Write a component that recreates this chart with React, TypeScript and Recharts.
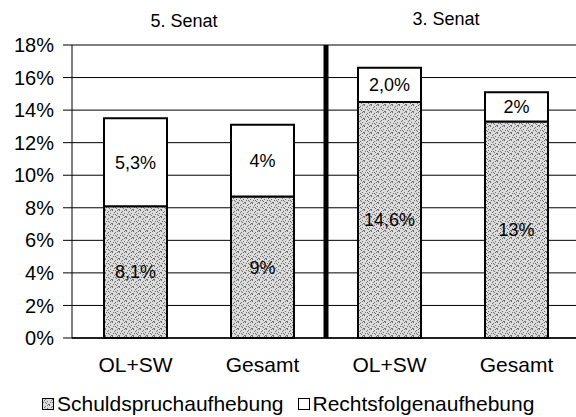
import React from 'react';
import {
  BarChart,
  Bar,
  XAxis,
  YAxis,
  CartesianGrid,
  ReferenceLine,
  LabelList,
} from 'recharts';

const categories = ['OL+SW', 'Gesamt', 'OL+SW', 'Gesamt'];
const positions = [0.5, 1.5, 2.5, 3.5];
const schuldspruch = [8.1, 8.7, 14.5, 13.3];
const rechtsfolgen = [5.4, 4.4, 2.1, 1.8];
const schuldLabels = ['8,1%', '9%', '14,6%', '13%'];
const rechtsLabels = ['5,3%', '4%', '2,0%', '2%'];
const yTicks = [0, 2, 4, 6, 8, 10, 12, 14, 16, 18];
const senate = ['5. Senat', '3. Senat'];

const data = categories.map((name, i) => ({
  name,
  x: positions[i],
  schuld: schuldspruch[i],
  rechts: rechtsfolgen[i],
  schuldLabel: schuldLabels[i],
  rechtsLabel: rechtsLabels[i],
}));

const FONT = '"Liberation Sans", Arial, sans-serif';

// speckled grey like the scanned original
const dots = [
  [0, 0], [3, 1], [5, 3], [1, 4], [4, 5], [2, 2], [6, 6], [0, 6], [5, 0], [3, 4],
];

const Pattern = () => (
  <svg width={0} height={0} style={{ position: 'absolute' }}>
    <defs>
      <pattern id="speckle" width={7} height={7} patternUnits="userSpaceOnUse">
        <rect width={7} height={7} fill="#dcdcdc" />
        {dots.map(([x, y], i) => (
          <rect key={i} x={x} y={y} width={1} height={1} fill="#6e6e6e" />
        ))}
      </pattern>
    </defs>
  </svg>
);

const LegendBox = ({ fill, label, gap }: { fill: string; label: string; gap: number }) => (
  <span style={{ display: 'inline-flex', alignItems: 'center', marginRight: gap }}>
    <svg width={12} height={12} style={{ marginRight: 3 }}>
      <rect x={0.5} y={0.5} width={11} height={11} fill={fill} stroke="#000" strokeWidth={1} />
    </svg>
    {label}
  </span>
);

export default function App() {
  return (
    <div
      style={{
        position: 'fixed',
        left: 0,
        top: 0,
        width: 576,
        height: 417,
        overflow: 'hidden',
        background: '#fff',
        fontFamily: FONT,
      }}
    >
      <Pattern />
      <div style={{ position: 'absolute', left: 184, top: 21, transform: 'translate(-50%, -50%)', fontSize: 18, whiteSpace: 'nowrap' }}>
        {senate[0]}
      </div>
      <div style={{ position: 'absolute', left: 446, top: 19, transform: 'translate(-50%, -50%)', fontSize: 18, whiteSpace: 'nowrap' }}>
        {senate[1]}
      </div>
      <BarChart
        width={580}
        height={417}
        data={data}
        margin={{ top: 45, right: 0, left: 0, bottom: 39 }}
        style={{ fontFamily: FONT }}
      >
        <CartesianGrid vertical={false} stroke="#000" strokeWidth={1} />
        <XAxis
          dataKey="x"
          type="number"
          domain={[0, 4]}
          ticks={positions}
          tickFormatter={(v: number) => categories[positions.indexOf(v)]}
          height={40}
          tickLine={false}
          tickSize={6}
          tickMargin={13}
          axisLine={{ stroke: '#000', strokeWidth: 1.5 }}
          tick={{ fill: '#000', fontSize: 21 }}
        />
        <YAxis
          domain={[0, 18]}
          ticks={yTicks}
          width={72}
          tickFormatter={(v: number) => `${v}%`}
          tickSize={9}
          tickMargin={9}
          axisLine={{ stroke: '#000', strokeWidth: 1 }}
          tickLine={{ stroke: '#000' }}
          tick={{ fill: '#000', fontSize: 20 }}
        />
        <ReferenceLine x={2} stroke="#000" strokeWidth={5} />
        <Bar
          dataKey="schuld"
          stackId="a"
          barSize={63}
          fill="url(#speckle)"
          stroke="#000"
          strokeWidth={2}
          isAnimationActive={false}
        >
          <LabelList dataKey="schuldLabel" position="center" fill="#000" fontSize={18} />
        </Bar>
        <Bar
          dataKey="rechts"
          stackId="a"
          barSize={63}
          fill="#fff"
          stroke="#000"
          strokeWidth={2}
          isAnimationActive={false}
        >
          <LabelList dataKey="rechtsLabel" position="center" fill="#000" fontSize={18} />
        </Bar>
      </BarChart>
      <div
        style={{
          position: 'absolute',
          left: 42,
          top: 404,
          transform: 'translateY(-50%)',
          fontSize: 21,
          whiteSpace: 'nowrap',
          display: 'flex',
        }}
      >
        <LegendBox fill="url(#speckle)" label="Schuldspruchaufhebung" gap={14} />
        <LegendBox fill="#fff" label="Rechtsfolgenaufhebung" gap={0} />
      </div>
    </div>
  );
}
